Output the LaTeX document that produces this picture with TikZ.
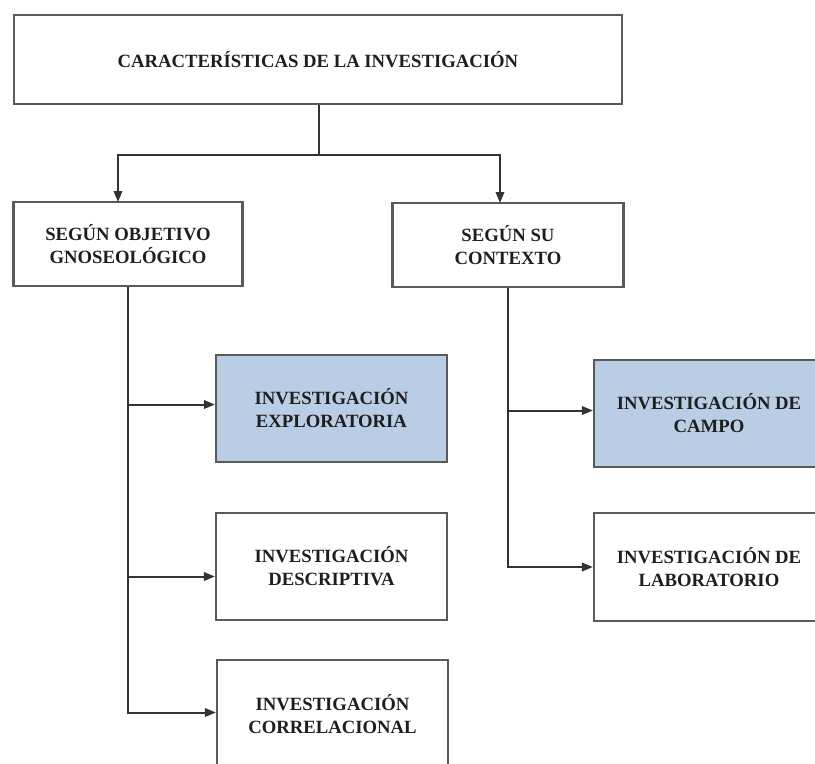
\documentclass[tikz,border=0pt]{standalone}
\usepackage{fontspec}
\setmainfont{Liberation Serif}
\usetikzlibrary{arrows.meta}
\definecolor{boxline}{HTML}{5A5A5A}
\definecolor{conn}{HTML}{333333}
\definecolor{txt}{HTML}{1E1E1E}
\definecolor{bluefill}{HTML}{B9CDE5}
\tikzset{
  box/.style={draw=boxline, line width=2.2pt, rectangle, inner sep=0pt,
    align=center, text=txt, font=\bfseries\fontsize{18.7}{23}\selectfont},
  bluebox/.style={box, fill=bluefill},
  conline/.style={draw=conn, line width=2pt},
  arrow/.style={conline, -{Triangle[length=11pt,width=8.5pt]}}
}
\begin{document}
\begin{tikzpicture}[x=1pt,y=-1pt]
\useasboundingbox (0,0) rectangle (815,764);
\clip (0,0) rectangle (815,764);
\fill[white] (0,0) rectangle (815,764);
% nodes
\node[box, minimum width=608pt, minimum height=89pt] (top) at (318,59.5) {CARACTERÍSTICAS DE LA INVESTIGACIÓN};
\node[box, minimum width=229pt, minimum height=84pt] (obj) at (128,244) {SEGÚN OBJETIVO\\GNOSEOLÓGICO};
\node[box, minimum width=231pt, minimum height=84pt] (ctx) at (508,245) {SEGÚN SU\\CONTEXTO};
\node[bluebox, minimum width=231pt, minimum height=107pt] (explo) at (331.5,408.5) {INVESTIGACIÓN\\EXPLORATORIA};
\node[box, minimum width=231pt, minimum height=107pt] (desc) at (331.5,566.5) {INVESTIGACIÓN\\DESCRIPTIVA};
\node[box, minimum width=231pt, minimum height=109pt] (corr) at (332.5,714.5) {INVESTIGACIÓN\\CORRELACIONAL};
\node[bluebox, minimum width=230pt, minimum height=107pt] (campo) at (709,413.5) {INVESTIGACIÓN DE\\CAMPO};
\node[box, minimum width=230pt, minimum height=108pt] (lab) at (709,567) {INVESTIGACIÓN DE\\LABORATORIO};
% junction and arrow end coordinates
\coordinate (j) at (319,155);
\coordinate (objin) at (118,202);
\coordinate (ctxin) at (500,203);
\coordinate (explin) at ([yshift=4pt]explo.west);
\coordinate (descin) at ([yshift=-10pt]desc.west);
\coordinate (corrin) at ([yshift=2pt]corr.west);
\coordinate (campin) at ([yshift=3pt]campo.west);
% top connectors
\draw[conline] (top.south -| j) -- (j);
\draw[arrow] (j) -| (objin);
\draw[arrow] (j) -| (ctxin);
% left spine
\draw[arrow] (obj.south) |- (corrin);
\draw[arrow] (obj.south |- explin) -- (explin);
\draw[arrow] (obj.south |- descin) -- (descin);
% right spine
\draw[arrow] (ctx.south) |- (lab.west);
\draw[arrow] (ctx.south |- campin) -- (campin);
\end{tikzpicture}
\end{document}
